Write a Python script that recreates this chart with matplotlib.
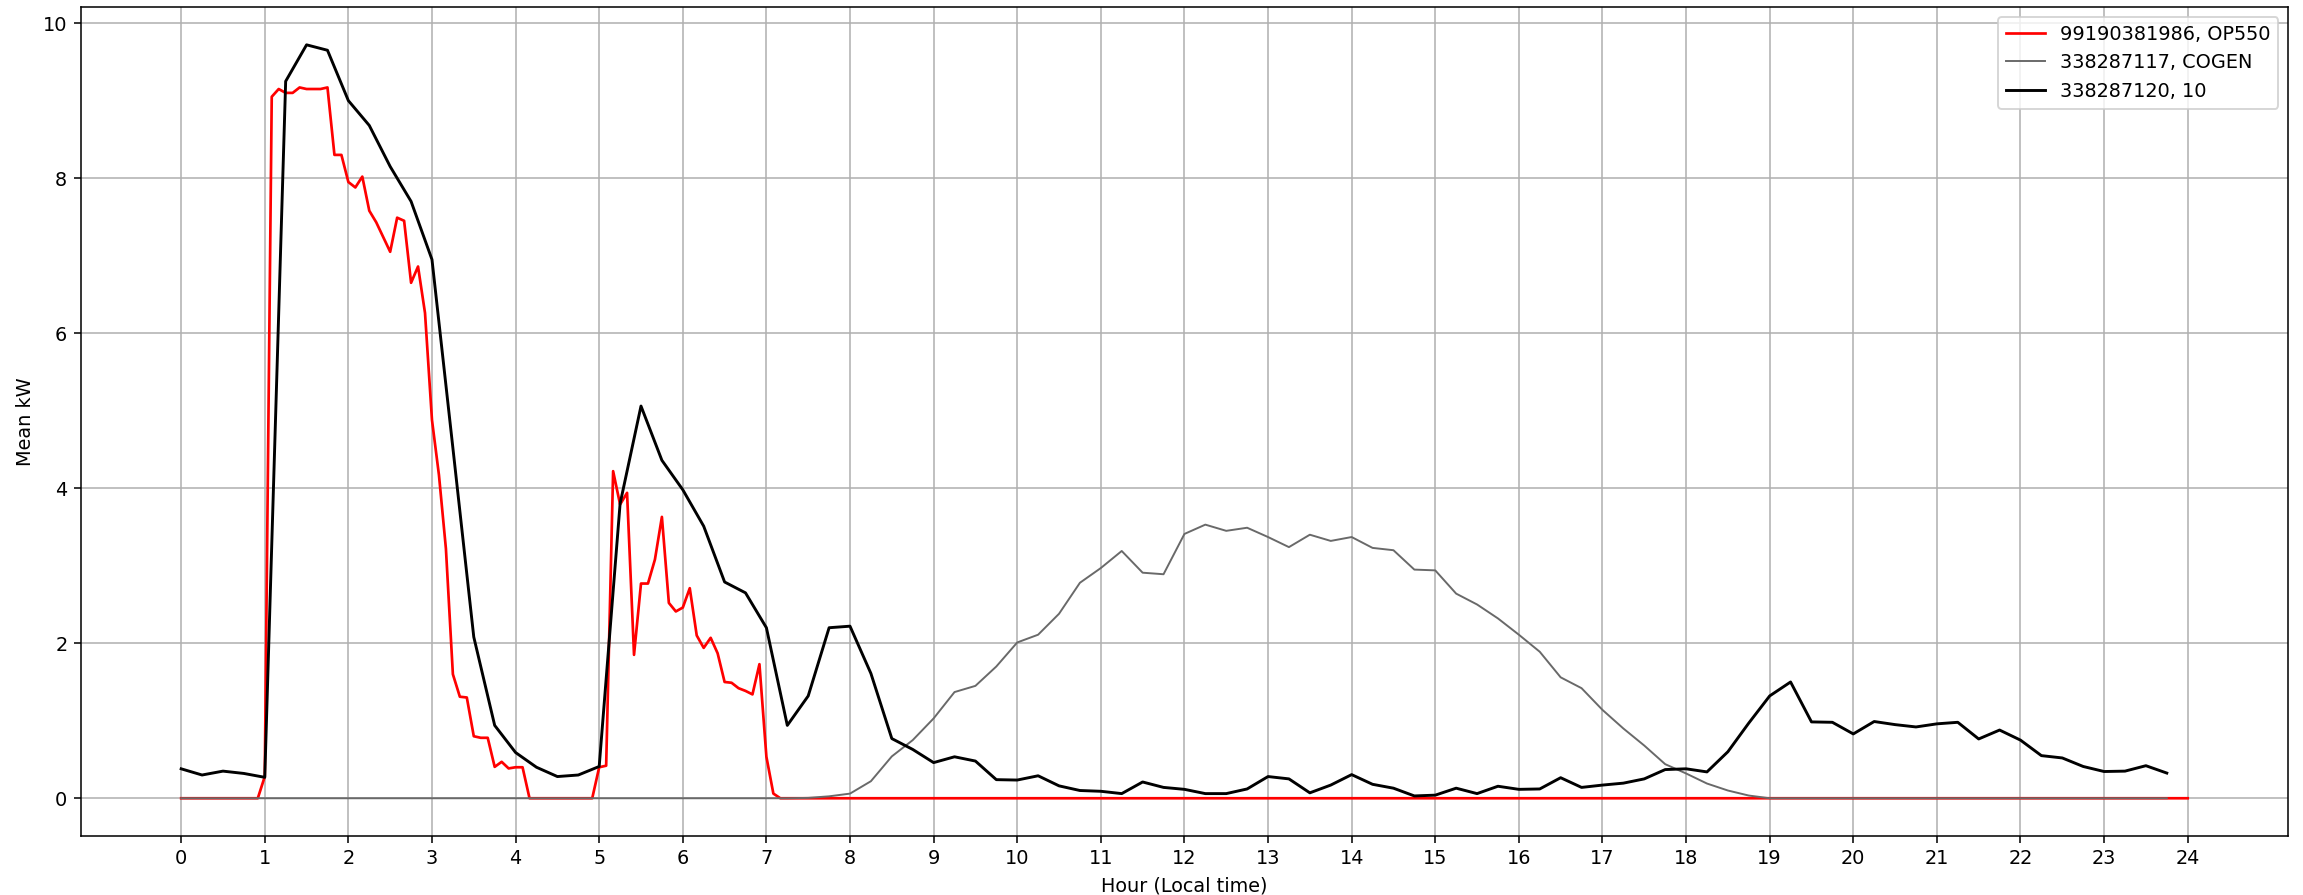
import numpy as np
import matplotlib
matplotlib.use("Agg")
import matplotlib.pyplot as plt

# mean power per interval, 5-minute meter (OP550)
op550_kw = [0.0] * 12 + [
    0.28, 9.05, 9.15, 9.10, 9.10, 9.17, 9.15, 9.15, 9.15, 9.17, 8.30, 8.30,
    7.95, 7.88, 8.02, 7.58, 7.43, 7.24, 7.05, 7.49, 7.45, 6.65, 6.86, 6.26,
    4.88, 4.17, 3.22, 1.60, 1.31, 1.30, 0.80, 0.78, 0.78, 0.405, 0.47, 0.385,
    0.40, 0.40,
] + [0.0] * 10 + [
    0.40, 0.42, 4.22, 3.79, 3.94, 1.85, 2.77, 2.77, 3.08, 3.63, 2.52, 2.41,
    2.46, 2.71, 2.10, 1.94, 2.07, 1.87, 1.50, 1.49, 1.42, 1.385, 1.34, 1.73,
    0.535, 0.06,
] + [0.0] * 203

# 15-minute meters
cogen_kw = [0.0] * 30 + [
    0.005, 0.025, 0.06, 0.22, 0.54, 0.75, 1.03, 1.37, 1.45, 1.70,
    2.01, 2.11, 2.38, 2.78, 2.97, 3.19, 2.91, 2.89, 3.41, 3.53,
    3.45, 3.49, 3.37, 3.24, 3.40, 3.32, 3.37, 3.23, 3.20, 2.95,
    2.94, 2.64, 2.50, 2.32, 2.11, 1.89, 1.56, 1.42, 1.14, 0.90,
    0.68, 0.44, 0.32, 0.19, 0.10, 0.035,
] + [0.0] * 20

meter10_kw = [
    0.38, 0.30, 0.35, 0.32, 0.27, 9.25, 9.72, 9.65, 9.00, 8.68, 8.15, 7.70,
    6.95, 4.52, 2.08, 0.94, 0.59, 0.40, 0.28, 0.30, 0.41, 3.80, 5.06, 4.36,
    3.98, 3.51, 2.79, 2.65, 2.20, 0.94, 1.32, 2.20, 2.22, 1.61, 0.77, 0.63,
    0.46, 0.535, 0.48, 0.24, 0.235, 0.29, 0.16, 0.10, 0.09, 0.06, 0.21, 0.14,
    0.115, 0.06, 0.06, 0.12, 0.28, 0.25, 0.07, 0.17, 0.305, 0.18, 0.13, 0.03,
    0.04, 0.13, 0.06, 0.155, 0.115, 0.12, 0.265, 0.14, 0.17, 0.195, 0.25, 0.37,
    0.38, 0.34, 0.60, 0.97, 1.32, 1.50, 0.985, 0.98, 0.83, 0.99, 0.95, 0.92,
    0.96, 0.98, 0.765, 0.88, 0.75, 0.55, 0.52, 0.41, 0.345, 0.35, 0.42, 0.325,
]

labels = ["99190381986, OP550", "338287117, COGEN", "338287120, 10"]

hours_5min = np.arange(len(op550_kw)) / 12
hours_15min = np.arange(len(meter10_kw)) / 4

fig = plt.figure(figsize=(2303 / 139, 895 / 139), dpi=139)
fig.subplots_adjust(left=0.0351, right=0.9935, bottom=0.066, top=0.992)

plt.plot(hours_5min, op550_kw, color="red", linewidth=1.4, label=labels[0])
plt.plot(hours_15min, cogen_kw, color="dimgray", linewidth=1.0, label=labels[1])
plt.plot(hours_15min, meter10_kw, color="black", linewidth=1.5, label=labels[2])

plt.xticks(range(0, 25))
plt.legend(loc="upper right")
plt.grid()
plt.xlabel("Hour (Local time)")
plt.ylabel("Mean kW")

plt.savefig("out.png", dpi=139)
